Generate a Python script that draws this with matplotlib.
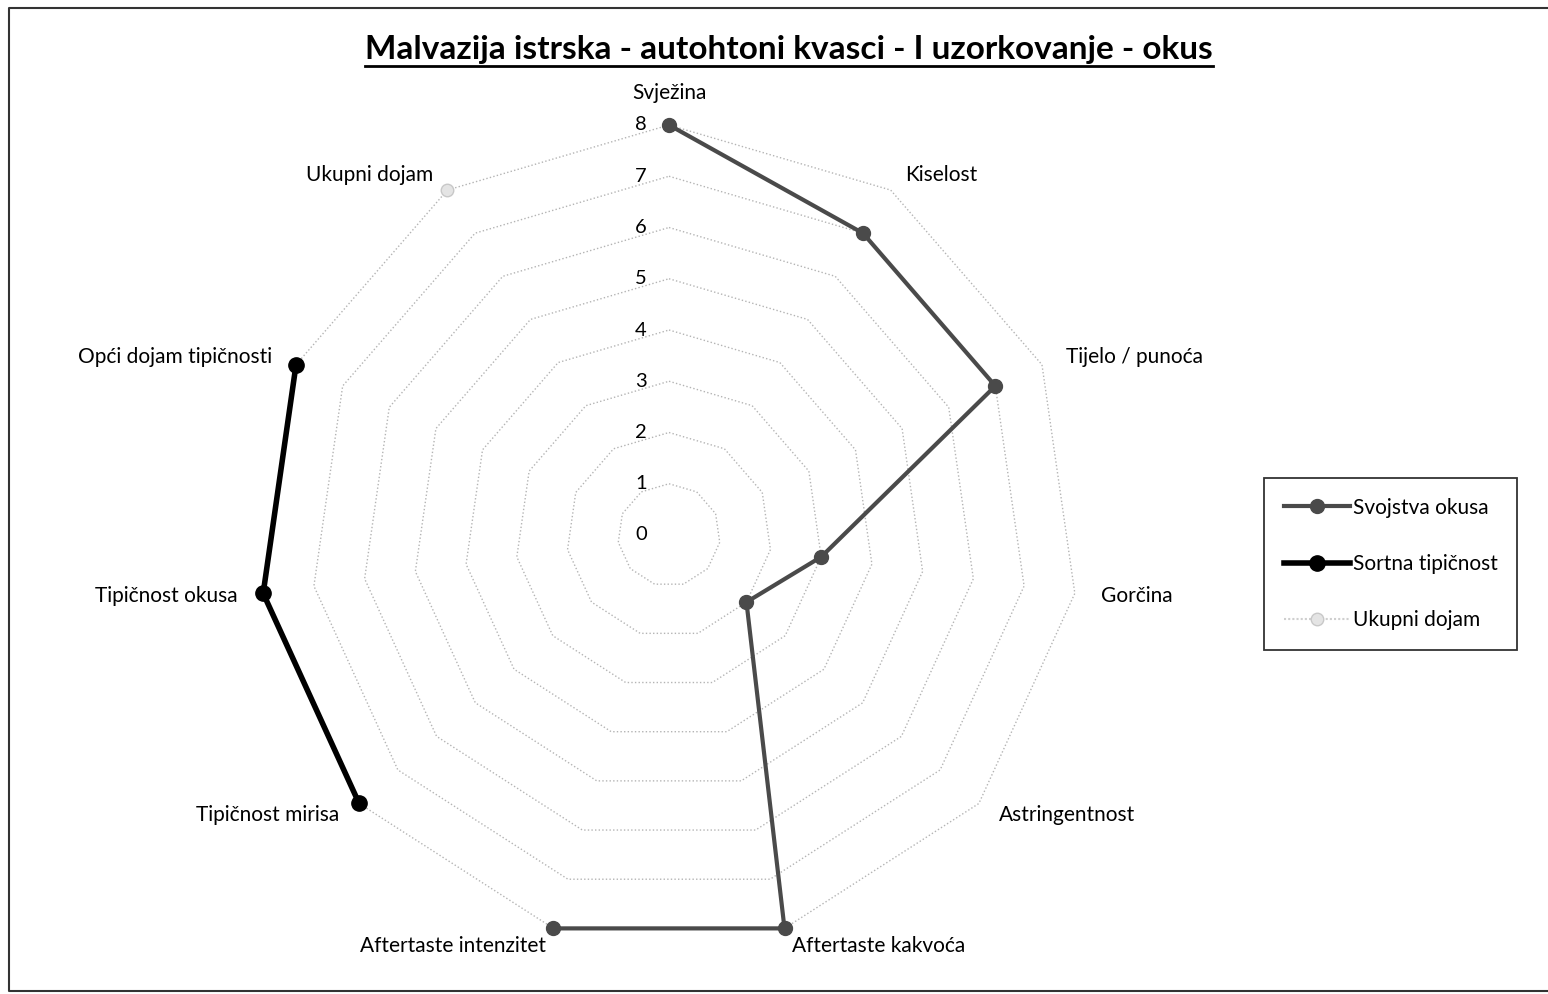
import numpy as np
import matplotlib
matplotlib.use("Agg")
import matplotlib.pyplot as plt
from matplotlib.lines import Line2D

# categories around the radar, clockwise from the top
categories = ["Svježina", "Kiselost", "Tijelo / punoća", "Gorčina", "Astringentnost",
              "Aftertaste kakvoća", "Aftertaste intenzitet", "Tipičnost mirisa",
              "Tipičnost okusa", "Opći dojam tipičnosti", "Ukupni dojam"]
nan = np.nan
svojstva_okusa = [8, 7, 7, 3, 2, 8, 8, nan, nan, nan, nan]
sortna_tipicnost = [nan, nan, nan, nan, nan, nan, nan, 8, 8, 8, nan]
ukupni_dojam = [nan, nan, nan, nan, nan, nan, nan, nan, nan, nan, 8]
levels = [0, 1, 2, 3, 4, 5, 6, 7, 8]
title = "Malvazija istrska - autohtoni kvasci - I uzorkovanje - okus"

plt.rcParams['font.family'] = ['Lato', 'DejaVu Sans']

fig = plt.figure(figsize=(15.48, 9.94), dpi=100)
ax = fig.add_axes([259/1548, 49/994, 820/1548, 820/994], projection='polar')
ax.set_theta_zero_location('N')
ax.set_theta_direction(-1)
ax.set_ylim(0, max(levels))
ax.set_axis_off()

n = len(categories)
theta = np.arange(n) * 2 * np.pi / n
theta_closed = np.append(theta, theta[0])

# polygon grid
for k in levels[1:]:
    ax.plot(theta_closed, [k] * (n + 1), color='#b4b4b4', lw=1.0, ls=(0, (1, 1.6)),
            clip_on=False, zorder=1)

# scale labels
for k in levels:
    ax.annotate(str(k), xy=(0, k), xytext=(-22, 0), textcoords='offset pixels',
                ha='right', va='center', fontsize=14.5, color='black')

# category labels
for t, name in zip(theta, categories):
    s, c = np.sin(t), np.cos(t)
    if abs(s) < 0.1:
        ha, dx, dy = 'center', 0, 32 * np.sign(c)
    else:
        ha = 'left' if s > 0 else 'right'
        dx, dy = 26 * s, 18 * c
    ax.annotate(name, xy=(t, max(levels)), xytext=(dx, dy),
                textcoords='offset pixels', ha=ha, va='center', fontsize=15)

l1, = ax.plot(theta, svojstva_okusa, color='#4a4a4a', lw=3.0, marker='o', ms=10,
              clip_on=False, zorder=3, label='Svojstva okusa')
l2, = ax.plot(theta, sortna_tipicnost, color='black', lw=4, marker='o', ms=11,
              clip_on=False, zorder=3, label='Sortna tipičnost')
l3, = ax.plot(theta, ukupni_dojam, color='#cfcfcf', lw=1.5, ls=(0, (1, 1)), marker='o', ms=9,
              markerfacecolor='#e4e4e4', markeredgecolor='#c8c8c8', clip_on=False, zorder=3,
              label='Ukupni dojam')

leg = fig.legend(handles=[l1, l2, l3], loc='center left',
                 bbox_to_anchor=(1264/1548, 1 - 564/994), frameon=True, fancybox=False,
                 edgecolor='black', fontsize=15, handlelength=3.2, handletextpad=0.1,
                 labelspacing=1.75, borderpad=0.95, borderaxespad=0)
leg.get_frame().set_linewidth(1.3)

t = fig.text(789/1548, 1 - 50/994, title, ha='center', va='center', fontsize=24,
             fontweight='bold')

# underline for the title
fig.canvas.draw()
bb = t.get_window_extent().transformed(fig.transFigure.inverted())
fig.add_artist(Line2D([bb.x0, bb.x1], [bb.y0 - 0.002, bb.y0 - 0.002], color='black', lw=2,
                      transform=fig.transFigure))

# page border (open on the right, as on the scan)
x0, y0, y1 = 9/1548, 1 - 991/994, 1 - 8/994
fig.add_artist(Line2D([1.0, x0, x0, 1.0], [y1, y1, y0, y0], color='#333333', lw=1.5,
                      transform=fig.transFigure))

fig.savefig("out.png", dpi=100)
